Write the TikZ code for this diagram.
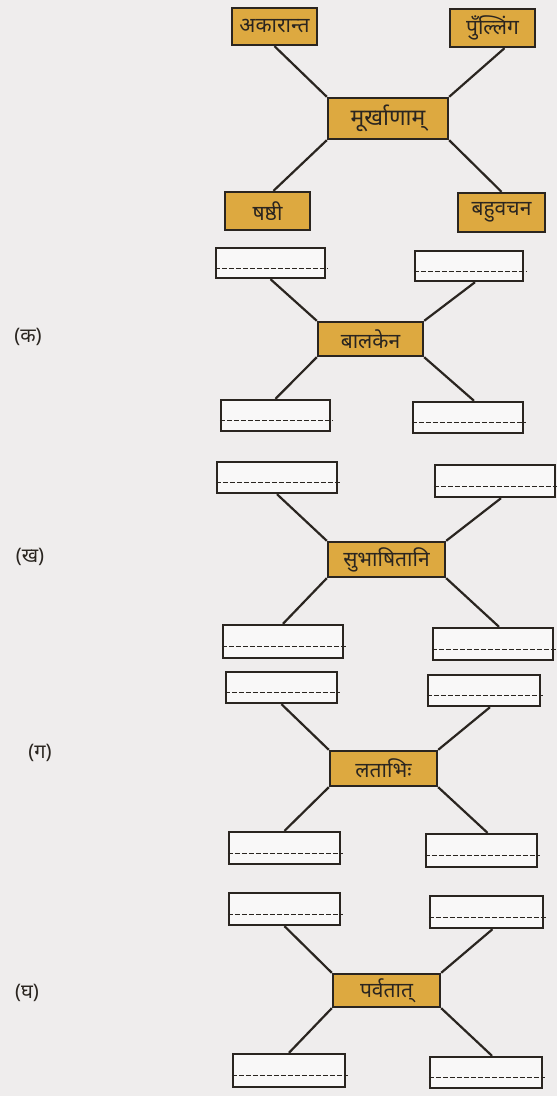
\documentclass[tikz,border=0pt]{standalone}
\usepackage{fontspec}
\newfontfamily\devfont[Script=Devanagari]{Noto Sans}
\usepackage{tikz}
\usetikzlibrary{positioning}
\definecolor{PaperGray}{HTML}{EFEDED}
\definecolor{WordGold}{HTML}{DDA940}
\definecolor{InkDark}{HTML}{2A2520}
\tikzset{
  wordbox/.style={fill=WordGold, draw=InkDark, line width=2.4pt, inner sep=0pt, font=\devfont\fontsize{21}{24}\selectfont, text=InkDark},
  blankbox/.style={fill=white!60!PaperGray, draw=InkDark, line width=2.4pt, inner sep=0pt},
  link/.style={draw=InkDark, line width=2.2pt},
  writeline/.style={draw=InkDark, line width=1pt, dash pattern=on 5pt off 2pt},
  tag/.style={font=\devfont\fontsize{20}{24}\selectfont, text=InkDark}
}

\begin{document}
\begin{tikzpicture}[x=1pt, y=-1pt]
  \fill[PaperGray] (0,0) rectangle (557,1096);
  \useasboundingbox (0,0) rectangle (557,1096);
  % Example word
  \node[wordbox, minimum width=85, minimum height=37] (akr) at (274.5,26.5) {अकारान्त};
  \node[wordbox, minimum width=85, minimum height=38] (pul) at (492.5,28) {पुँल्लिंग};
  \node[wordbox, minimum width=120, minimum height=41] (c0) at (388,118.5) {\fontsize{23}{26}\selectfont मूर्खाणाम्};
  \node[wordbox, minimum width=85, minimum height=38] (sas) at (267.5,211) {षष्ठी};
  \node[wordbox, minimum width=87, minimum height=39] (bah) at (501.5,212.5) {बहुवचन};
  \draw[link] (akr.south) -- (c0.north west);
  \draw[link] ([xshift=12pt]pul.south) -- (c0.north east);
  \draw[link] (c0.south west) -- ([xshift=6pt]sas.north);
  \draw[link] (c0.south east) -- (bah.north);
  % (k)
  \node[tag] (k) at (28,337) {(क)};
  \node[blankbox, minimum width=109, minimum height=30] (a1) at (270.5,263) {};
  \node[blankbox, minimum width=108, minimum height=30] (b1) at (469,266) {};
  \node[wordbox, minimum width=105, minimum height=34] (c1) at (370.5,339) {बालकेन};
  \node[blankbox, minimum width=109, minimum height=31] (d1) at (275.5,415.5) {};
  \node[blankbox, minimum width=110, minimum height=31] (e1) at (468,417.5) {};
  % (kh)
  \node[tag] (kh) at (30,557) {(ख)};
  \node[blankbox, minimum width=120, minimum height=31] (a2) at (277,477.5) {};
  \node[blankbox, minimum width=120, minimum height=32] (b2) at (495,481) {};
  \node[wordbox, minimum width=117, minimum height=35] (c2) at (386.5,559.5) {सुभाषितानि};
  \node[blankbox, minimum width=120, minimum height=33] (d2) at (283,641.5) {};
  \node[blankbox, minimum width=120, minimum height=32] (e2) at (493,644) {};
  % (g)
  \node[tag] (g) at (40,753) {(ग)};
  \node[blankbox, minimum width=111, minimum height=31] (a3) at (281.5,687.5) {};
  \node[blankbox, minimum width=112, minimum height=31] (b3) at (484,690.5) {};
  \node[wordbox, minimum width=107, minimum height=35] (c3) at (383.5,768.5) {लताभिः};
  \node[blankbox, minimum width=111, minimum height=32] (d3) at (284.5,848) {};
  \node[blankbox, minimum width=111, minimum height=33] (e3) at (481.5,850.5) {};
  % (gh)
  \node[tag] (gh) at (27,993) {(घ)};
  \node[blankbox, minimum width=111, minimum height=32] (a4) at (284.5,909) {};
  \node[blankbox, minimum width=113, minimum height=32] (b4) at (486.5,912) {};
  \node[wordbox, minimum width=107, minimum height=33] (c4) at (386.5,990.5) {पर्वतात्};
  \node[blankbox, minimum width=112, minimum height=33] (d4) at (289,1070.5) {};
  \node[blankbox, minimum width=112, minimum height=31] (e4) at (486,1072.5) {};
  % Links and writing lines
  \foreach \i in {1,...,4} {
    \draw[link] (a\i.south) -- (c\i.north west);
    \draw[link] ([xshift=6pt]b\i.south) -- (c\i.north east);
    \draw[link] (c\i.south west) -- (d\i.north);
    \draw[link] (c\i.south east) -- ([xshift=6pt]e\i.north);
    \foreach \b in {a,b,d,e}
      \draw[writeline] ([yshift=-5pt]\b\i.west) -- ([yshift=-5pt,xshift=2pt]\b\i.east);
  }
\end{tikzpicture}
\end{document}
